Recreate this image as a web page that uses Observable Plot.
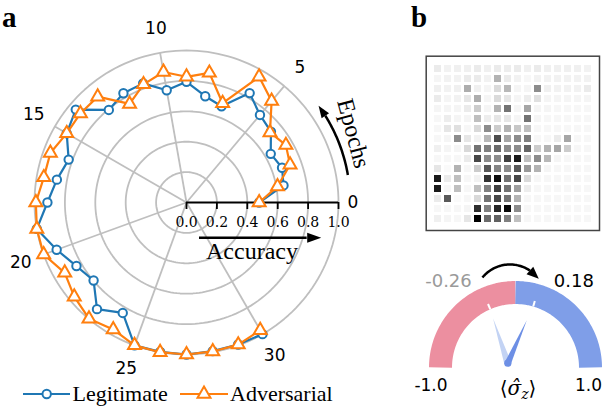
<!DOCTYPE html>
<html><head><meta charset="utf-8">
<script src="https://cdn.jsdelivr.net/npm/d3@7"></script>
<script src="https://cdn.jsdelivr.net/npm/@observablehq/plot@0.6"></script>
<style>
body{margin:0;background:#fff;}
#root{position:relative;width:602px;height:408px;overflow:hidden;background:#fff;}
#root > *{position:absolute;}
</style></head><body><div id="root"></div>
<script>
// ---------- DATA ----------
const epochs = [0,1,2,3,4,5,6,7,8,9,10,11,12,13,14,15,16,17,18,19,20,21,22,23,24,25,26,27,28,29,30];
const legitimate = [0.478,0.648,0.669,0.640,0.725,0.752,0.831,0.674,0.710,0.794,0.750,0.834,0.830,0.795,0.951,0.910,0.825,0.866,0.915,1.000,0.909,0.836,0.798,0.916,0.839,1.000,0.998,1.000,0.993,0.994,1.000];
const adversarial = [0.478,0.608,0.725,0.755,0.717,0.871,0.955,0.695,0.866,0.827,0.872,0.827,0.749,0.909,0.911,0.910,0.953,0.953,0.991,1.000,1.000,0.925,0.964,0.998,0.964,1.000,1.000,1.000,0.995,0.995,0.970];
const epochTicks = [0,5,10,15,20,25,30];
const accuracyTicks = [0.0,0.2,0.4,0.6,0.8,1.0];
const accuracyRings = [0.2,0.4,0.6,0.8,1.0];
const seriesNames = ["Legitimate","Adversarial"];

const heatRow0  = [0.08,0.05,0.06,0.06,0.08,0.06,0.08,0.07,0.08,0.06,0.08,0.06,0.06,0.06,0.06,0.05];
const heatRow1  = [0.04,0.05,0.05,0.08,0.08,0.05,0.30,0.08,0.05,0.03,0.05,0.05,0.05,0.05,0.05,0.05];
const heatRow2  = [0.06,0.05,0.06,0.32,0.06,0.04,0.14,0.28,0.04,0.04,0.45,0.06,0.05,0.05,0.05,0.08];
const heatRow3  = [0.08,0.04,0.05,0.10,0.32,0.04,0.14,0.10,0.04,0.07,0.12,0.04,0.04,0.04,0.04,0.04];
const heatRow4  = [0.04,0.04,0.04,0.08,0.20,0.04,0.30,0.55,0.04,0.35,0.04,0.04,0.03,0.03,0.03,0.03];
const heatRow5  = [0.03,0.07,0.04,0.04,0.25,0.07,0.10,0.10,0.04,0.55,0.04,0.03,0.03,0.03,0.03,0.03];
const heatRow6  = [0.03,0.10,0.12,0.03,0.15,0.45,0.20,0.30,0.22,0.25,0.03,0.03,0.03,0.03,0.03,0.03];
const heatRow7  = [0.03,0.04,0.45,0.10,0.05,0.28,0.70,0.35,0.45,0.50,0.03,0.03,0.08,0.35,0.03,0.03];
const heatRow8  = [0.06,0.04,0.04,0.15,0.55,0.50,0.58,0.45,0.45,0.60,0.20,0.30,0.35,0.20,0.03,0.03];
const heatRow9  = [0.03,0.03,0.03,0.08,0.72,0.45,0.45,0.75,0.90,0.25,0.45,0.28,0.04,0.03,0.03,0.03];
const heatRow10 = [0.10,0.02,0.30,0.03,0.20,0.65,0.48,0.45,0.65,0.40,0.30,0.04,0.03,0.03,0.03,0.03];
const heatRow11 = [0.90,0.08,0.25,0.03,0.05,0.80,0.95,0.55,0.72,0.15,0.03,0.03,0.03,0.03,0.03,0.03];
const heatRow12 = [0.90,0.03,0.25,0.03,0.25,0.50,0.75,0.55,0.38,0.07,0.03,0.03,0.03,0.03,0.03,0.03];
const heatRow13 = [0.08,0.65,0.02,0.03,0.15,0.55,0.72,0.55,0.30,0.03,0.03,0.03,0.03,0.03,0.03,0.03];
const heatRow14 = [0.03,0.03,0.03,0.04,0.82,0.50,0.85,0.97,0.45,0.03,0.03,0.03,0.03,0.03,0.03,0.03];
const heatRow15 = [0.06,0.04,0.03,0.10,1.00,0.58,0.62,0.50,0.25,0.03,0.03,0.03,0.03,0.03,0.03,0.03];
const heatRows = [heatRow0,heatRow1,heatRow2,heatRow3,heatRow4,heatRow5,heatRow6,heatRow7,heatRow8,heatRow9,heatRow10,heatRow11,heatRow12,heatRow13,heatRow14,heatRow15];

const gaugeRange = [-1.0, 1.0];
const gaugeBefore = -0.26;
const gaugeAfter = 0.18;

// ---------- helpers ----------
const root = document.getElementById("root");
const DEG = Math.PI / 180;
const BLUE = "#1f77b4", ORANGE = "#ff7f0e", GRID = "#bfbfbf";
function place(node, left, top) { node.style.left = left + "px"; node.style.top = top + "px"; root.appendChild(node); return node; }

// ---------- PANEL a : polar accuracy ----------
const WA = 400, HA = 408, CX = 186, CY = 202, R = 152;
const ang = e => e * 10 * DEG;
const pol = (r, a) => ({x: r * Math.cos(a), y: r * Math.sin(a)});

const ringPts = accuracyRings.flatMap(r => d3.range(0, 361, 2).map(t => ({ring: r, ...pol(r, t * DEG)})));
const legitPts = epochs.map((e, i) => pol(legitimate[i], ang(e)));
const advPts = epochs.map((e, i) => pol(adversarial[i], ang(e)));

function arcArrow(cx, cy, r, a0, aBase, aTip, unitPx) {
  const step = (aBase - a0) / 40;
  const line = d3.range(41).map(i => ({x: cx + r * Math.cos((a0 + i * step) * DEG), y: cy + r * Math.sin((a0 + i * step) * DEG)}));
  const b = line[line.length - 1];
  const t = {x: cx + r * Math.cos(aTip * DEG), y: cy + r * Math.sin(aTip * DEG)};
  const dx = t.x - b.x, dy = t.y - b.y;
  return {line, head: {x: b.x, y: b.y, rotate: Math.atan2(dx, dy) / DEG, length: Math.hypot(dx, dy) * unitPx}};
}
const epochArrow = arcArrow(0, 0, 1.077, 9.7, 32.0, 36.6, R);
const accArrow = {x1: 13 / R, x2: (320.7 - CX - 14) / R, y: -35.3 / R, headLen: 14};

const plotA = Plot.plot({
  width: WA, height: HA, margin: 0,
  x: {domain: [-CX / R, (WA - CX) / R], range: [0, WA], axis: null},
  y: {domain: [-(HA - CY) / R, CY / R], range: [HA, 0], axis: null},
  style: {background: "transparent"},
  marks: [
    Plot.line(ringPts, {x: "x", y: "y", z: "ring", stroke: GRID, strokeWidth: 1.8}),
    Plot.link(epochTicks.filter(e => e > 0), {x1: 0, y1: 0, x2: e => Math.cos(ang(e)), y2: e => Math.sin(ang(e)), stroke: GRID, strokeWidth: 1.8}),
    Plot.ruleY([0], {x1: 0, x2: 1, stroke: "black", strokeWidth: 2}),
    Plot.ruleX(accuracyTicks, {x: d => d, y1: 0, y2: -7 / R, stroke: "black", strokeWidth: 1.8}),
    Plot.text(accuracyTicks, {x: d => d, y: -24 / R, text: d => d.toFixed(1), lineAnchor: "bottom", fontFamily: "DejaVu Serif", fontSize: 14, fill: "black"}),
    Plot.ruleY([accArrow.y], {x1: accArrow.x1, x2: accArrow.x2, stroke: "black", strokeWidth: 2.5}),
    Plot.vector([accArrow], {x: "x2", y: "y", length: accArrow.headLen, rotate: 90, shape: "spike", anchor: "start", r: 5, fill: "black", stroke: "none"}),
    Plot.text(["Accuracy"], {x: (251.5 - CX) / R, y: -56 / R, text: d => d, lineAnchor: "bottom", fontFamily: "Liberation Serif", fontSize: 24, fill: "black"}),
    Plot.line(legitPts, {x: "x", y: "y", stroke: BLUE, strokeWidth: 2.2}),
    Plot.dot(legitPts, {x: "x", y: "y", r: 4.2, symbol: "circle", stroke: BLUE, strokeWidth: 2, fill: "white"}),
    Plot.line(advPts, {x: "x", y: "y", stroke: ORANGE, strokeWidth: 2.2}),
    Plot.dot(advPts, {x: "x", y: "y", r: 4.8, symbol: "triangle", stroke: ORANGE, strokeWidth: 2, fill: "white"}),
    Plot.text(epochTicks, {x: e => (e === 0 ? 1.095 : 1.16) * Math.cos(ang(e)), y: e => (e === 0 ? 1.095 : 1.16) * Math.sin(ang(e)), text: e => String(e), fontFamily: "DejaVu Sans", fontSize: 17, fill: "black"}),
    Plot.line(epochArrow.line, {x: "x", y: "y", stroke: "black", strokeWidth: 2.5, strokeLinecap: "butt"}),
    Plot.vector([epochArrow.head], {x: "x", y: "y", length: "length", rotate: "rotate", shape: "spike", anchor: "start", r: 4.5, fill: "black", stroke: "none"}),
    Plot.text(["Epochs"], {x: 1.099, y: 0.454, text: d => d, rotate: 75, fontFamily: "Liberation Serif", fontSize: 24, fill: "black"})
  ]
});
place(plotA, 0, 0);

// ---------- PANEL b : heatmap ----------
const cells = heatRows.flatMap((row, r) => row.map((v, c) => ({row: r, col: c, v})));
const plotH = Plot.plot({
  width: 182, height: 186, marginLeft: 5.7, marginRight: 3, marginTop: 5.7, marginBottom: 6,
  x: {type: "band", domain: d3.range(16), paddingInner: 0.33, paddingOuter: 0.15, axis: null},
  y: {type: "band", domain: d3.range(16), paddingInner: 0.33, paddingOuter: 0.15, axis: null},
  color: {type: "linear", domain: [0, 1], range: ["#ffffff", "#000000"]},
  style: {background: "transparent"},
  marks: [
    Plot.cell(cells, {x: "col", y: "row", fill: "v"}),
    Plot.frame({stroke: "#444", strokeWidth: 1.5})
  ]
});
place(plotH, 420, 50);

// ---------- PANEL b : gauge ----------
const GW = 202, GH = 158, GCX = 115, GCY = 117, GU = 86.5, INNER = 0.734;
const vAng = v => (90 - 90 * v) * DEG;
const midR = (1 + INNER) / 2;
const segs = [{from: gaugeRange[0], to: 0, color: "#ec8fa0"}, {from: 0, to: gaugeRange[1], color: "#7f9ee8"}];
const segPts = segs.flatMap(s => d3.range(0, 51).map(i => { const v = s.from + (s.to - s.from) * i / 50; return {seg: s.color, ...pol(midR, vAng(v))}; }));
const pivot = {x: (507.3 - 515) / GU, y: (367 - 362.7) / GU};
const needles = [{v: gaugeBefore, fill: "#c3d3f4", r: 3.6}, {v: gaugeAfter, fill: "#6d8fe5", r: 3.2}].map(n => {
  const t = pol((INNER + 0.8) / 2, vAng(n.v));
  return {...n, x: pivot.x, y: pivot.y, rotate: Math.atan2(t.x - pivot.x, t.y - pivot.y) / DEG};
});
const gArrow = arcArrow(-0.064, 0.779, 0.412, 140.6, 56, 39.4, GU);

const plotG = Plot.plot({
  width: GW, height: GH, margin: 0,
  x: {domain: [-GCX / GU, (GW - GCX) / GU], range: [0, GW], axis: null},
  y: {domain: [-(GH - GCY) / GU, GCY / GU], range: [GH, 0], axis: null},
  style: {background: "transparent"},
  marks: [
    Plot.line(segPts, {x: "x", y: "y", z: "seg", stroke: "seg", strokeWidth: (1 - INNER) * GU, strokeLinecap: "butt"}),
    Plot.link([gaugeBefore, gaugeAfter], {x1: v => INNER * Math.cos(vAng(v)), y1: v => INNER * Math.sin(vAng(v)), x2: v => 0.8 * Math.cos(vAng(v)), y2: v => 0.8 * Math.sin(vAng(v)), stroke: "white", strokeWidth: 2}),
    Plot.vector([needles[0]], {x: "x", y: "y", rotate: "rotate", length: 47, shape: "spike", anchor: "start", r: 3.6, fill: needles[0].fill, stroke: "none"}),
    Plot.vector([needles[1]], {x: "x", y: "y", rotate: "rotate", length: 47, shape: "spike", anchor: "start", r: 3.2, fill: needles[1].fill, stroke: "none"}),
    Plot.dot([pivot], {x: "x", y: "y", r: 3.6, fill: "#6d8fe5"}),
    Plot.text([gaugeBefore], {x: -0.775, y: 0.928, text: v => v.toFixed(2), lineAnchor: "bottom", fontFamily: "DejaVu Sans", fontSize: 18, fill: "#9a9a9a"}),
    Plot.text([gaugeAfter], {x: 0.674, y: 0.928, text: v => v.toFixed(2), lineAnchor: "bottom", fontFamily: "DejaVu Sans", fontSize: 18, fill: "black"}),
    Plot.line(gArrow.line, {x: "x", y: "y", stroke: "black", strokeWidth: 2.5, strokeLinecap: "butt"}),
    Plot.vector([gArrow.head], {x: "x", y: "y", length: "length", rotate: "rotate", shape: "spike", anchor: "start", r: 5, fill: "black", stroke: "none"}),
    Plot.text([gaugeRange[0]], {x: v => v, dx: 2, y: -0.266, text: v => v.toFixed(1), lineAnchor: "bottom", fontFamily: "DejaVu Sans", fontSize: 17, fill: "black"}),
    Plot.text([gaugeRange[1]], {x: v => v, dx: -13.5, y: -0.266, text: v => v.toFixed(1), lineAnchor: "bottom", fontFamily: "DejaVu Sans", fontSize: 17, fill: "black"})
  ]
});
place(plotG, 400, 250);

// ---------- overlay: panel letters, legend, gauge label ----------
const ov = document.createElementNS("http://www.w3.org/2000/svg", "svg");
ov.setAttribute("width", 602); ov.setAttribute("height", 408);
ov.style.pointerEvents = "none";
ov.innerHTML = `
<text x="2" y="27" font-family="Liberation Serif" font-weight="bold" font-size="29">a</text>
<text x="411" y="27" font-family="Liberation Serif" font-weight="bold" font-size="29">b</text>
<line x1="23" x2="70" y1="394" y2="394" stroke="${BLUE}" stroke-width="2.2"/>
<circle cx="46.7" cy="394" r="4.2" fill="white" stroke="${BLUE}" stroke-width="2"/>
<text x="72.5" y="401" font-family="Liberation Serif" font-size="22">${seriesNames[0]}</text>
<line x1="180" x2="228" y1="394" y2="394" stroke="${ORANGE}" stroke-width="2.2"/>
<path transform="translate(204,394)" d="${d3.symbol(d3.symbolTriangle, Math.PI * 4.8 * 4.8)()}" fill="white" stroke="${ORANGE}" stroke-width="2"/>
<text x="230" y="401" font-family="Liberation Serif" font-size="22">${seriesNames[1]}</text>
<text x="518" y="395" text-anchor="middle" font-family="DejaVu Serif" font-size="20">⟨<tspan font-style="italic">σ̂</tspan><tspan font-style="italic" font-size="14" dy="4">z</tspan><tspan dy="-4">⟩</tspan></text>
`;
place(ov, 0, 0);
</script></body></html>
